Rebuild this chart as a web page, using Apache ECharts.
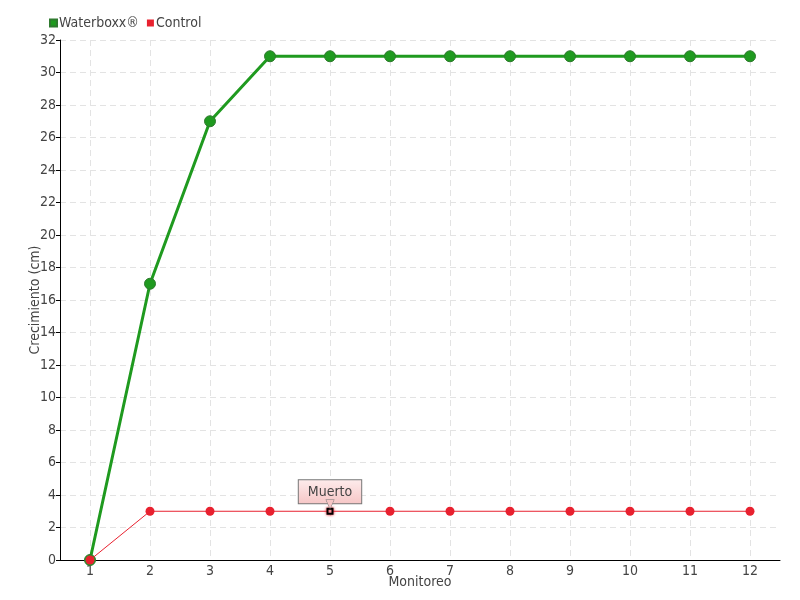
<!DOCTYPE html>
<html><head><meta charset="utf-8">
<script src="https://cdn.jsdelivr.net/npm/echarts@6/dist/echarts.min.js"></script>
<style>html,body{margin:0;padding:0;background:#fff}#c{width:800px;height:600px}</style>
</head><body><div id="c"></div>
<script>
const categories = ['1','2','3','4','5','6','7','8','9','10','11','12'];
const waterboxx = [0,17,27,31,31,31,31,31,31,31,31,31];
const control = [0,3,3,3,3,3,3,3,3,3,3,3];
const deadIndex = 4;
const deadLabel = 'Muerto';
const FONT = '"DejaVu Sans Condensed", "Liberation Sans Narrow", sans-serif';

const controlData = control.map((v, i) => i === deadIndex ? {
  value: v,
  symbol: 'rect',
  symbolSize: 5,
  itemStyle: { color: '#fff', borderColor: '#000', borderWidth: 2, shadowColor: '#e8212f', shadowBlur: 3 },
  label: {
    show: true, position: 'top', distance: 0,
    formatter: '{b|' + deadLabel + '}\n{a|▼}',
    rich: {
      b: {
        fontFamily: FONT, fontSize: 14, color: '#444',
        backgroundColor: { type: 'linear', x: 0, y: 0, x2: 0, y2: 1, colorStops: [{offset: 0, color: '#fdecec'}, {offset: 1, color: '#f6c6c6'}] },
        borderColor: '#777', borderWidth: 1, padding: [5, 9, 4, 9], lineHeight: 16
      },
      a: { fontSize: 11, color: '#f6c6c6', textBorderColor: '#777', textBorderWidth: 1, lineHeight: 8 }
    }
  }
} : v);

const chart = echarts.init(document.getElementById('c'));
chart.setOption({
  animation: false,
  textStyle: { fontFamily: FONT },
  legend: {
    left: 44, top: 11, itemWidth: 7, itemHeight: 7, itemGap: 8,
    textStyle: { fontFamily: FONT, fontSize: 14, color: '#444', padding: [0,0,0,-3] },
    data: [{ name: 'Waterboxx®', icon: 'rect' }, { name: 'Control', icon: 'rect' }]
  },
  grid: { left: 60, right: 20, top: 40, bottom: 40, outerBoundsMode: 'none', containLabel: false },
  xAxis: {
    type: 'category', data: categories, boundaryGap: true,
    name: 'Monitoreo', nameLocation: 'middle', nameGap: 15, nameMoveOverlap: false,
    nameTextStyle: { fontFamily: FONT, fontSize: 14, color: '#444' },
    axisLine: { lineStyle: { color: '#000', width: 1 } },
    axisTick: { alignWithLabel: true, length: 4, inside: false, lineStyle: { color: '#000' } },
    axisLabel: { fontFamily: FONT, fontSize: 14, color: '#444', margin: 4 },
    splitLine: { show: true, alignWithLabel: true, lineStyle: { color: '#e3e3e3', type: [6, 4] } }
  },
  yAxis: {
    type: 'value', min: 0, max: 32, interval: 2,
    name: 'Crecimiento (cm)', nameLocation: 'middle', nameGap: 18, nameMoveOverlap: false,
    nameTextStyle: { fontFamily: FONT, fontSize: 14, color: '#444' },
    axisLine: { show: true, lineStyle: { color: '#000', width: 1 } },
    axisTick: { show: true, length: 4, lineStyle: { color: '#000' } },
    axisLabel: { fontFamily: FONT, fontSize: 14, color: '#444', margin: 4 },
    splitLine: { show: true, lineStyle: { color: '#e3e3e3', type: [6, 4] } }
  },
  series: [
    {
      name: 'Waterboxx®', type: 'line', data: waterboxx,
      color: '#22a12a',
      lineStyle: { color: '#1f9a1f', width: 3 },
      symbol: 'circle', symbolSize: 11,
      itemStyle: { color: '#1f9a1f', borderColor: '#2f7a2f', borderWidth: 1 },
      z: 2
    },
    {
      name: 'Control', type: 'line', data: controlData,
      color: '#e8212f',
      lineStyle: { color: '#e8212f', width: 1 },
      symbol: 'circle', symbolSize: 9,
      itemStyle: { color: '#e8212f', borderColor: '#e8212f', borderWidth: 0 },
      z: 3
    }
  ]
});
</script></body></html>
